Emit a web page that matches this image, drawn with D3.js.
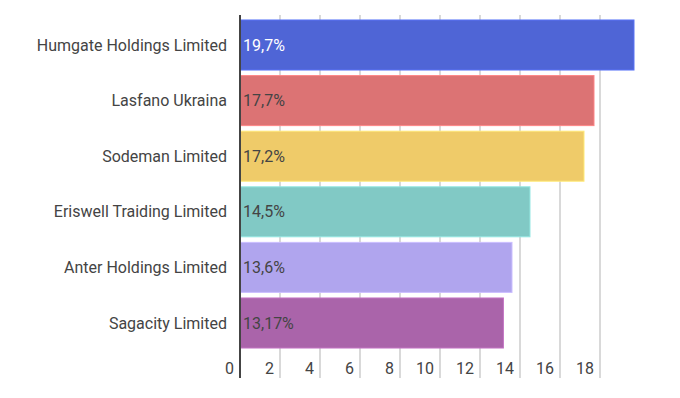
<!DOCTYPE html>
<html>
<head>
<meta charset="utf-8">
<script src="https://cdn.jsdelivr.net/npm/d3@7"></script>
<style>
  body { margin: 0; background: #fff; }
  text { font-family: Roboto, "Noto Sans", sans-serif; }
</style>
</head>
<body>
<div id="graph"></div>
<script>
var categories = ["Humgate Holdings Limited", "Lasfano Ukraina", "Sodeman Limited",
    "Eriswell Traiding Limited", "Anter Holdings Limited", "Sagacity Limited"];
var values = [19.7, 17.7, 17.2, 14.5, 13.6, 13.17];
var valueLabels = ["19,7%", "17,7%", "17,2%", "14,5%", "13,6%", "13,17%"];
var colors = ["#4f65d6", "#dc7374", "#efcb69", "#81c9c5", "#b0a5ee", "#aa64aa"];
var ticks = [0, 2, 4, 6, 8, 10, 12, 14, 16, 18];

var width = 680, height = 398;

var svg = d3.select("#graph").append("svg")
    .attr("width", width)
    .attr("height", height);

var x = d3.scaleLinear().domain([0, 20]).range([240, 640]);
var y = d3.scaleBand().domain(categories)
    .range([17.2, 350.8])
    .paddingInner(0.1)
    .paddingOuter(0.05);

// vertical gridlines
svg.append("g").selectAll("line")
    .data(ticks.filter(function(d) { return d > 0; }))
    .join("line")
    .attr("x1", function(d) { return x(d); })
    .attr("x2", function(d) { return x(d); })
    .attr("y1", 15)
    .attr("y2", 378)
    .attr("stroke", "#cccccc")
    .attr("stroke-width", 1.5);

// bars
svg.append("g").selectAll("rect")
    .data(values)
    .join("rect")
    .attr("x", x(0))
    .attr("y", function(d, i) { return y(categories[i]); })
    .attr("width", function(d) { return x(d) - x(0); })
    .attr("height", y.bandwidth())
    .attr("fill", function(d, i) { return colors[i]; })
    .attr("stroke", function(d, i) { return d3.color(colors[i]).brighter(0.4); })
    .attr("stroke-width", 1);

// value labels inside bars
svg.append("g").selectAll("text")
    .data(valueLabels)
    .join("text")
    .attr("x", x(0) + 3)
    .attr("y", function(d, i) { return y(categories[i]) + y.bandwidth() / 2; })
    .attr("dy", "0.35em")
    .attr("font-size", "16px")
    .attr("fill", function(d, i) { return i === 0 ? "#ffffff" : "#444444"; })
    .text(function(d) { return d; });

// category labels
svg.append("g").selectAll("text")
    .data(categories)
    .join("text")
    .attr("x", 227)
    .attr("y", function(d) { return y(d) + y.bandwidth() / 2; })
    .attr("dy", "0.35em")
    .attr("text-anchor", "end")
    .attr("font-size", "16px")
    .attr("fill", "#444444")
    .text(function(d) { return d; });

// tick labels
svg.append("g").selectAll("text")
    .data(ticks)
    .join("text")
    .attr("x", function(d) { return x(d) - 6; })
    .attr("y", 374)
    .attr("text-anchor", "end")
    .attr("font-size", "16px")
    .attr("fill", "#444444")
    .text(function(d) { return d; });

// zero line
svg.append("line")
    .attr("x1", x(0))
    .attr("x2", x(0))
    .attr("y1", 15)
    .attr("y2", 378)
    .attr("stroke", "#444444")
    .attr("stroke-width", 2);
</script>
</body>
</html>
